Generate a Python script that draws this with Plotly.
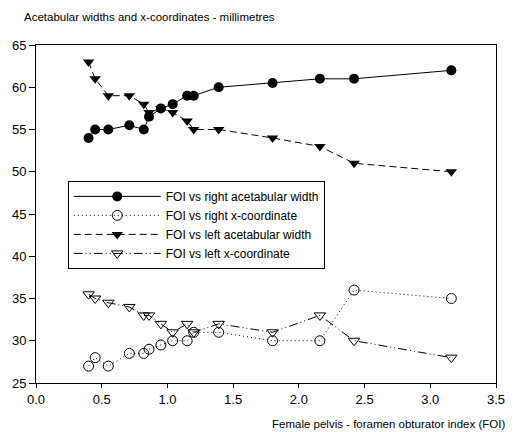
import plotly.graph_objects as go

foi = [0.40, 0.45, 0.55, 0.71, 0.82, 0.86, 0.95, 1.04, 1.15, 1.20, 1.39, 1.80, 2.16, 2.42, 3.16]
right_width = [54, 55, 55, 55.5, 55, 56.5, 57.5, 58, 59, 59, 60, 60.5, 61, 61, 62]
right_xcoord = [27, 28, 27, 28.5, 28.5, 29, 29.5, 30, 30, 31, 31, 30, 30, 36, 35]
left_width = [63, 61, 59, 59, 58, 57, 57.5, 57, 56, 55, 55, 54, 53, 51, 50]
left_xcoord = [35.5, 35, 34.5, 34, 33, 33, 32, 31, 32, 31, 32, 31, 33, 30, 28]

series_names = ["FOI vs right acetabular width", "FOI vs right x-coordinate",
                "FOI vs left acetabular width", "FOI vs left x-coordinate"]
x_ticks = [0.0, 0.5, 1.0, 1.5, 2.0, 2.5, 3.0, 3.5]
y_ticks = [25, 30, 35, 40, 45, 50, 55, 60, 65]

fig = go.Figure()
fig.add_trace(go.Scatter(x=foi, y=right_width, name=series_names[0], mode="lines+markers",
                         line=dict(color="black", width=1, dash="solid"),
                         marker=dict(symbol="circle", size=10, color="black")))
fig.add_trace(go.Scatter(x=foi, y=right_xcoord, name=series_names[1], mode="lines+markers",
                         line=dict(color="black", width=1, dash="1px,3px"),
                         marker=dict(symbol="circle-open", size=10, color="black", line=dict(width=1))))
fig.add_trace(go.Scatter(x=foi, y=left_width, name=series_names[2], mode="lines+markers",
                         line=dict(color="black", width=1, dash="7px,4px"),
                         marker=dict(symbol="triangle-down", size=10, color="black")))
fig.add_trace(go.Scatter(x=foi, y=left_xcoord, name=series_names[3], mode="lines+markers",
                         line=dict(color="black", width=1, dash="9px,3px,1px,3px,1px,3px"),
                         marker=dict(symbol="triangle-down-open", size=10, color="black", line=dict(width=1))))

fig.update_layout(
    width=517, height=432,
    margin=dict(l=34, r=12, t=45, b=49),
    paper_bgcolor="white", plot_bgcolor="white",
    font=dict(family="Liberation Sans, Arial, sans-serif", color="black", size=12),
    xaxis=dict(range=[0, 3.5], tickvals=x_ticks, ticktext=[f"{v:.1f}" for v in x_ticks],
               showgrid=False, zeroline=False, showline=True, linecolor="black", linewidth=1,
               mirror=True, ticks="outside", ticklen=4, tickcolor="black",
               tickfont=dict(size=13)),
    yaxis=dict(range=[25, 65], tickvals=y_ticks, showgrid=False, zeroline=False,
               showline=True, linecolor="black", linewidth=1, mirror=True,
               ticks="outside", ticklen=6, tickcolor="black", tickfont=dict(size=13)),
    legend=dict(x=0.069, y=0.598, xanchor="left", yanchor="top",
                bgcolor="white", bordercolor="black", borderwidth=1,
                font=dict(size=12), itemwidth=87, tracegroupgap=0),
    showlegend=True,
    annotations=[
        dict(text="Acetabular widths and x-coordinates - millimetres", xref="paper", yref="paper",
             x=-0.02, y=1.0, xshift=-5, yshift=20, xanchor="left", yanchor="bottom", showarrow=False,
             font=dict(size=11.5)),
        dict(text="Female pelvis - foramen obturator index (FOI)", xref="paper", yref="paper",
             x=1.0, y=0, xshift=11, yshift=-33, xanchor="right", yanchor="top", showarrow=False,
             font=dict(size=11.5)),
    ],
)

fig.write_html("out.html")
